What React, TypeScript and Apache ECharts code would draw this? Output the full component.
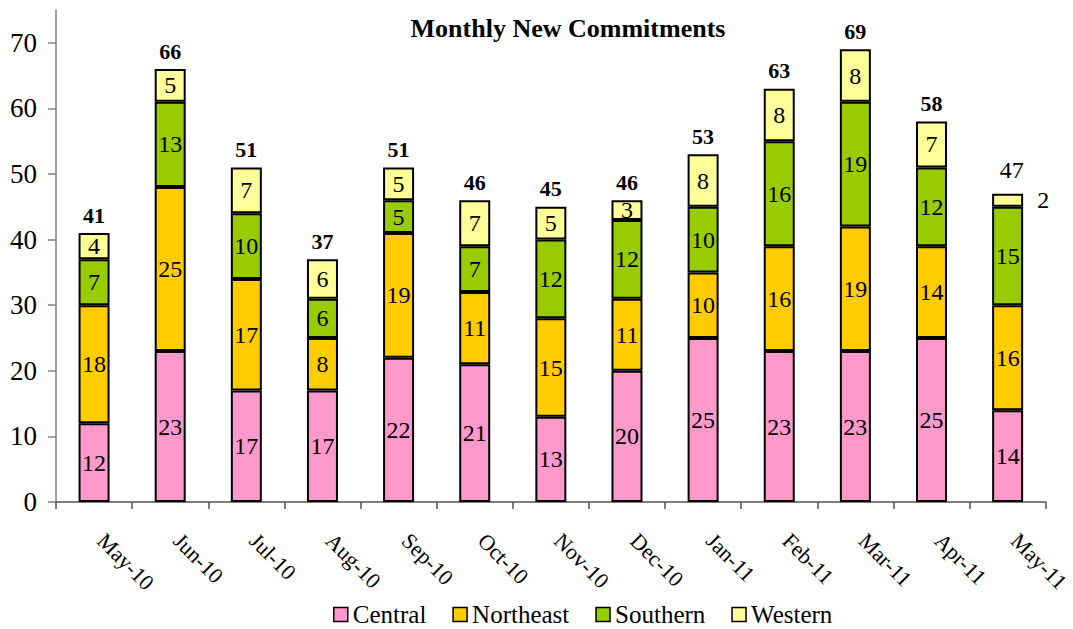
import React, { useEffect, useRef } from "react";
import * as echarts from "echarts";

const categories = ["May-10","Jun-10","Jul-10","Aug-10","Sep-10","Oct-10","Nov-10","Dec-10","Jan-11","Feb-11","Mar-11","Apr-11","May-11"];
const central = [12,23,17,17,22,21,13,20,25,23,23,25,14];
const northeast = [18,25,17,8,19,11,15,11,10,16,19,14,16];
const southern = [7,13,10,6,5,7,12,12,10,16,19,12,15];
const western = [4,5,7,6,5,7,5,3,8,8,8,7,2];
const totals = [41,66,51,37,51,46,45,46,53,63,69,58,47];
const yTicks = [0,10,20,30,40,50,60,70];

const FONT = "Liberation Serif";

export default function App() {
  const ref = useRef<HTMLDivElement>(null);
  useEffect(() => {
    const chart = echarts.init(ref.current!, null, { renderer: "svg" });
    const segLabel = {
      show: true,
      position: "inside",
      color: "#000",
      fontFamily: FONT,
      fontSize: 24,
    };
    const mk = (name: string, data: number[], color: string, special?: boolean) => ({
      name,
      type: "bar",
      stack: "s",
      barWidth: 31,
      data: data.map((v, i) =>
        special && i === data.length - 1
          ? { value: v, label: { position: "right", distance: 14 } }
          : v
      ),
      itemStyle: { color, borderColor: "#000", borderWidth: 2 },
      label: segLabel,
    });
    const last = totals.length - 1;
    chart.setOption({
      animation: false,
      textStyle: { fontFamily: FONT },
      title: {
        text: "Monthly New Commitments",
        left: 563,
        top: 10,
        textAlign: "center",
        textStyle: { fontFamily: FONT, fontSize: 26, fontWeight: "bold", color: "#000" },
      },
      legend: {
        data: ["Central", "Northeast", "Southern", "Western"],
        left: 333,
        top: 602,
        padding: 0,
        icon: "rect",
        itemWidth: 14,
        itemHeight: 14,
        itemGap: 26,
        itemStyle: { borderColor: "#000", borderWidth: 1.5 },
        textStyle: { fontFamily: FONT, fontSize: 25, lineHeight: 24, color: "#000" },
      },
      grid: { left: 56, right: 20, top: 10, bottom: 127 },
      xAxis: {
        type: "category",
        data: categories,
        axisLine: { lineStyle: { color: "#555", width: 1.5 } },
        axisTick: { show: true, length: 7, lineStyle: { color: "#555", width: 1.5 } },
        axisLabel: {
          rotate: -45,
          fontFamily: FONT,
          fontSize: 22,
          color: "#000",
          margin: 28,
          padding: [0, 0, 0, 10],
          interval: 0,
        },
      },
      yAxis: {
        type: "value",
        min: 0,
        max: 75,
        interval: 10,
        splitLine: { show: false },
        axisLine: { show: true, lineStyle: { color: "#808080", width: 1.5 } },
        axisTick: { show: true, length: 8, lineStyle: { color: "#808080", width: 1.5 } },
        axisLabel: {
          fontFamily: FONT,
          fontSize: 27,
          color: "#000",
          margin: 19,
          formatter: (v: number) => (yTicks.includes(v) ? String(v) : ""),
          showMaxLabel: false,
        },
      },
      series: [
        mk("Central", central, "#FF99CC"),
        mk("Northeast", northeast, "#FFCC00"),
        mk("Southern", southern, "#99CC00"),
        mk("Western", western, "#FFFF99", true),
        {
          name: "Total",
          type: "bar",
          stack: "s",
          barWidth: 31,
          data: totals.map((_, i) =>
            i === last
              ? { value: 0, label: { fontWeight: "normal", fontSize: 24, distance: 12, offset: [4, 0] } }
              : 0
          ),
          itemStyle: { color: "transparent", borderWidth: 0 },
          label: {
            show: true,
            position: "top",
            distance: 7,
            fontFamily: FONT,
            fontSize: 22,
            fontWeight: "bold",
            color: "#000",
            formatter: (p: any) => String(totals[p.dataIndex]),
          },
        },
      ],
    });
    return () => chart.dispose();
  }, []);
  return (
    <div
      ref={ref}
      style={{ position: "fixed", left: 0, top: 0, width: 1073, height: 629, background: "#fff" }}
    />
  );
}
